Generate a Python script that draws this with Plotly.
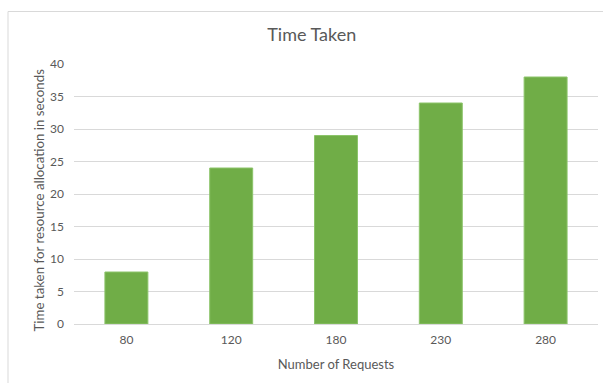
import plotly.graph_objects as go

categories = ["80", "120", "180", "230", "280"]
values = [8, 24, 29, 34, 38]
y_ticks = [0, 5, 10, 15, 20, 25, 30, 35, 40]

FONT = "Lato, 'Open Sans', sans-serif"
GREY = "#595959"

fig = go.Figure(
    go.Bar(
        x=categories,
        y=values,
        marker=dict(color="#70AD47", line=dict(color="#8CC46A", width=1)),
        width=0.41,
    )
)

fig.update_layout(
    width=603,
    height=383,
    margin=dict(l=74, r=5, t=64, b=59),
    paper_bgcolor="white",
    plot_bgcolor="white",
    showlegend=False,
    font=dict(family=FONT, color=GREY, size=12),
    title=dict(
        text="Time Taken",
        x=0.517,
        xanchor="center",
        y=1 - 35 / 383,
        yanchor="middle",
        font=dict(size=18, color=GREY, family=FONT),
    ),
    xaxis=dict(
        type="category",
        showgrid=False,
        showline=False,
        ticks="",
        tickfont=dict(size=12, color=GREY),
        title=dict(text="Number of Requests", font=dict(size=13, color=GREY), standoff=13),
        ticklabelstandoff=7,
    ),
    yaxis=dict(
        range=[0, 40],
        tickvals=y_ticks,
        showgrid=True,
        gridcolor="#D9D9D9",
        gridwidth=1,
        zeroline=True,
        zerolinecolor="#D9D9D9",
        zerolinewidth=1,
        showline=False,
        ticks="",
        tickfont=dict(size=12, color=GREY),
        ticklabelstandoff=9,
    ),
    annotations=[
        dict(
            text="Time taken for resource allocation in seconds",
            xref="paper",
            yref="paper",
            x=(38 - 74) / 524,
            y=(324 - 200.5) / 260,
            xanchor="center",
            yanchor="middle",
            textangle=-90,
            showarrow=False,
            font=dict(size=13.3, color=GREY, family=FONT),
        )
    ],
    shapes=[
        dict(
            type="rect",
            xref="paper",
            yref="paper",
            x0=-66 / 524,
            x1=1.05,
            y0=-0.3,
            y1=1 + (64 - 11.5) / 260,
            line=dict(color="#D9D9D9", width=1),
            fillcolor="rgba(0,0,0,0)",
            layer="below",
        )
    ],
)

fig.write_html("out.html")
